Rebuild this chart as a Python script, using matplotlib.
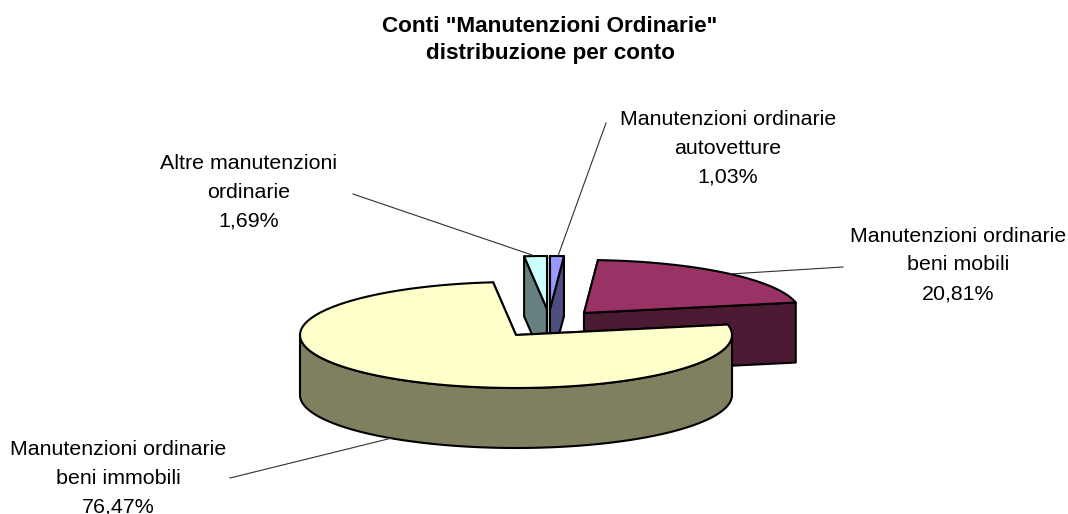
import matplotlib
matplotlib.use('Agg')
import matplotlib.pyplot as plt
from matplotlib.patches import Polygon
import numpy as np

plt.rcParams['font.family'] = ['Liberation Sans', 'DejaVu Sans']

# Data, clockwise from 12 o'clock
labels = ['Manutenzioni ordinarie\nautovetture\n1,03%',
          'Manutenzioni ordinarie\nbeni mobili\n20,81%',
          'Manutenzioni ordinarie\nbeni immobili\n76,47%',
          'Altre manutenzioni\nordinarie\n1,69%']
values = [1.03, 20.81, 76.47, 1.69]

top_colors = ['#9999FF', '#993366', '#FFFFCC', '#CCFFFF']
side_colors = ['#4D4D80', '#4D1A33', '#808060', '#668080']

# Apex of each exploded slice, in pixels
apex_x = [550, 584, 516, 547]
apex_y = [309, 313, 335, 309]
rx = 216
ry = 53
depth = 60

# Label anchor and leader line ends, in pixels
label_x = [728, 958, 118, 249]
label_y = [148, 265, 478, 192]
leader_x = [(606, 558), (843, 730), (230, 392), (353, 532)]
leader_y = [(123, 256), (267, 274), (478, 438), (194, 255)]

fig = plt.figure(figsize=(10.68, 5.14), dpi=100)
ax = fig.add_axes([0, 0, 1, 1])
ax.set_xlim(0, 1068)
ax.set_ylim(514, 0)
ax.axis('off')

fracs = np.array(values) / sum(values)
ends = 90 - 360 * np.cumsum(fracs)
starts = np.r_[90, ends[:-1]]


def rim(cx, cy, a0, a1, dy=0):
    t = np.radians(np.linspace(a0, a1, 120))
    return np.c_[cx + rx * np.cos(t), cy - ry * np.sin(t) + dy]


def face(pts, color, z):
    ax.add_patch(Polygon(pts, closed=True, fc=color, ec='black', lw=1.5,
                         joinstyle='round', zorder=z))


for i in range(len(values)):
    cx, cy = apex_x[i], apex_y[i]
    a0, a1 = starts[i], ends[i]
    edge = rim(cx, cy, a0, a1)
    z = {0: 2, 1: 3, 2: 4, 3: 1}[i]
    # cut faces
    for a in (a0, a1):
        p = rim(cx, cy, a, a)[0]
        face([(cx, cy), p, (p[0], p[1] + depth), (cx, cy + depth)],
             side_colors[i], z)
    # outer wall of the big slice, front half only
    if i == 2:
        wall = np.r_[rim(cx, cy, -180, 0), rim(cx, cy, 0, -180, depth)]
        face(wall, side_colors[i], z)
    face(np.r_[[(cx, cy)], edge], top_colors[i], z)
    ax.plot(leader_x[i], leader_y[i], color='#303030', lw=0.8, zorder=6)
    ax.text(label_x[i], label_y[i], labels[i], ha='center', va='center',
            fontsize=15.4, linespacing=1.64, color='black', zorder=7)

ax.text(550, 40, 'Conti "Manutenzioni Ordinarie"\ndistribuzione per conto',
        ha='center', va='center', fontsize=16.2, fontweight='bold',
        linespacing=1.36)

fig.savefig('out.png', dpi=100)
